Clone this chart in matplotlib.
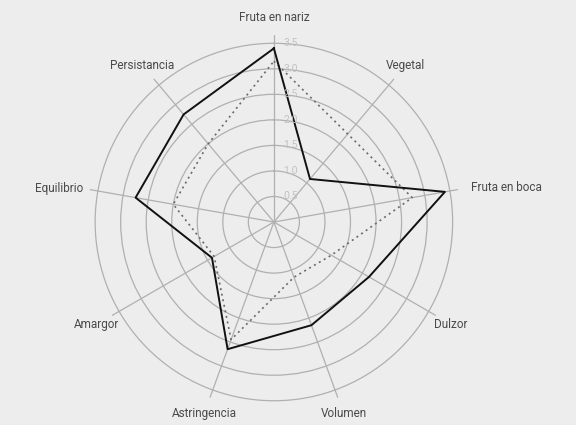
import numpy as np
import matplotlib
matplotlib.use("Agg")
import matplotlib.pyplot as plt

categories = ['Fruta en nariz', 'Vegetal', 'Fruta en boca', 'Dulzor', 'Volumen',
              'Astringencia', 'Amargor', 'Equilibrio', 'Persistancia']
serie_solida = [3.4, 1.1, 3.4, 2.15, 2.15, 2.65, 1.4, 2.75, 2.75]
serie_punteada = [3.15, 2.25, 2.75, 1.3, 1.15, 2.45, 1.35, 2.0, 2.0]
radial_ticks = [0.5, 1.0, 1.5, 2.0, 2.5, 3.0, 3.5]
radial_labels = ['0.5', '1.0', '1.5', '2.0', '2.5', '3.0', '3.5']

BG = '#ededed'
GRID = '#b0b0b0'
TXT = '#4a4a4a'

plt.rcParams['font.family'] = ['Roboto', 'DejaVu Sans']

fig = plt.figure(figsize=(5.76, 4.25), dpi=100, facecolor=BG)
ax = fig.add_axes([0.151, 0.0376, 0.649, 0.88], projection='polar')
ax.set_facecolor(BG)
ax.set_theta_zero_location('N')
ax.set_theta_direction(-1)

n = len(categories)
angles = np.linspace(0, 2 * np.pi, n, endpoint=False)

rmax = 3.66
ax.set_ylim(0, rmax)
ax.set_xticks(angles)
ax.set_xticklabels([])
ax.set_yticks(radial_ticks)
ax.set_yticklabels([])
ax.grid(True, color=GRID, linewidth=0.9)
ax.spines['polar'].set_visible(False)
ax.tick_params(length=0)

# series
a_closed = np.concatenate([angles, angles[:1]])
ax.plot(a_closed, serie_punteada + serie_punteada[:1], color='#6a6a6a',
        linestyle=(0, (1.2, 2.2)), linewidth=1.2)
ax.plot(a_closed, serie_solida + serie_solida[:1], color='#111111',
        linewidth=1.4)

# radial tick labels
for r, lab in zip(radial_ticks, radial_labels):
    ax.annotate(lab, xy=(0, r), xytext=(7, 0), textcoords='offset points',
                ha='left', va='center', fontsize=7.5, color='#c2c2c2')

# category labels
for ang, lab in zip(angles, categories):
    deg = np.degrees(ang)
    if abs(deg - 80) < 1:
        ax.text(ang, 3.92, lab, ha='left', va='center', fontsize=8.5, color=TXT)
    elif abs(deg - 280) < 1:
        ax.text(ang, 3.8, lab, ha='right', va='center', fontsize=8.5, color=TXT)
    else:
        ax.text(ang, 4.0, lab, ha='center', va='center', fontsize=8.5, color=TXT)

fig.savefig('out.png', dpi=100, facecolor=BG)
